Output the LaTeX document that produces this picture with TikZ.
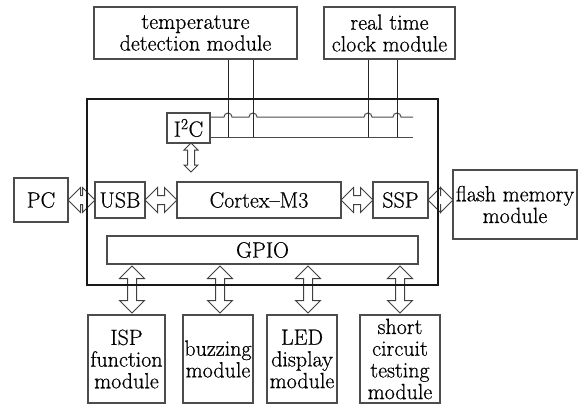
\documentclass[tikz,border=0pt]{standalone}
\usepackage{fontspec}
\newfontfamily\lmheavy{Latin Modern Roman}[FakeBold=0.6,Ligatures=TeX]
\usetikzlibrary{shapes.arrows,calc}
\begin{document}
\begin{tikzpicture}[x=1pt,y=-1pt,
  box/.style={draw=black!70,line width=1.1pt,inner sep=0pt,align=center,
    font=\lmheavy\fontsize{22}{21.7}\selectfont},
  dar/.style={double arrow,draw=black!75,fill=white,line width=1pt,inner sep=4pt,
    double arrow head extend=8pt,double arrow tip angle=90,minimum height=#1},
  bus/.style={draw=black!70,line width=1pt},
  vline/.style={draw=black!85,line width=1pt}]
\useasboundingbox (0,0) rectangle (587,407);

% top modules
\node[box,minimum width=203pt,minimum height=52pt] (temp) at (195.5,33) {temperature\\detection module};
\node[box,minimum width=131pt,minimum height=52pt] (rtc) at (389.5,33) {real time\\clock module};

% inner blocks
\node[box,minimum width=43pt,minimum height=30pt] (i2c) at (188.5,128) {I\textsuperscript{2}C};
\node[box,minimum width=54pt,minimum height=44pt] (pc) at (41,200) {PC};
\node[box,minimum width=50pt,minimum height=36pt] (usb) at (120,200) {USB};
\node[box,minimum width=164pt,minimum height=36pt] (cortex) at (259,200) {Cortex–M3};
\node[box,minimum width=55pt,minimum height=36pt] (ssp) at (400.5,200) {SSP};
\node[box,minimum width=124pt,minimum height=69pt] (flash) at (515,204.5) {flash memory\\module};
\node[box,minimum width=311pt,minimum height=28pt] (gpio) at (262.5,250) {GPIO};

% bottom modules
\node[box,minimum width=77pt,minimum height=88pt] (isp) at (126.5,359) {ISP\\function\\module};
\node[box,minimum width=70pt,minimum height=88pt] (buz) at (218,359) {buzzing\\module};
\node[box,minimum width=70pt,minimum height=88pt] (led) at (302,359) {LED\\display\\module};
\node[box,minimum width=80pt,minimum height=88pt] (sct) at (400,359) {short\\circuit\\testing\\module};

% I2C bus
\coordinate (busend1) at (413,117);
\coordinate (busend2) at (413,137);
\coordinate (t1) at (228,137);
\coordinate (t2) at (253,137);
\coordinate (r1) at (368,137);
\coordinate (r2) at (397,137);
\draw[bus] (i2c.east |- busend1) -- (224,117) arc[start angle=180,end angle=360,radius=4]
  -- (249,117) arc[start angle=180,end angle=360,radius=4]
  -- (364,117) arc[start angle=180,end angle=360,radius=4]
  -- (393,117) arc[start angle=180,end angle=360,radius=4] -- (busend1);
\draw[bus] (i2c.east |- busend2) -- (busend2);
\draw[vline] (temp.south -| t1) -- (t1);
\draw[vline] (temp.south -| t2) -- (t2);
\draw[vline] (rtc.south -| r1) -- (r1);
\draw[vline] (rtc.south -| r2) -- (r2);

% arrows
\node[dar=29pt,rotate=90,inner sep=3pt,double arrow head extend=3.5pt] (ai2c) at (191,157.5) {};
\node[dar=27pt] (apc) at (81.5,200) {};
\node[dar=32pt] (ausb) at (161,200) {};
\node[dar=32pt] (assp) at (357,200) {};
\node[dar=25pt] (afl) at (440.5,200) {};
\node[dar=47pt,rotate=90] (a1) at (132,289.5) {};
\node[dar=47pt,rotate=90] (a2) at (220,289.5) {};
\node[dar=47pt,rotate=90] (a3) at (308,289.5) {};
\node[dar=47pt,rotate=90] (a4) at (400,289.5) {};

% outer controller box
\node[draw=black!90,line width=2.2pt,minimum width=351pt,minimum height=186pt,inner sep=0pt] (mcu) at (262.5,192) {};
\end{tikzpicture}
\end{document}
